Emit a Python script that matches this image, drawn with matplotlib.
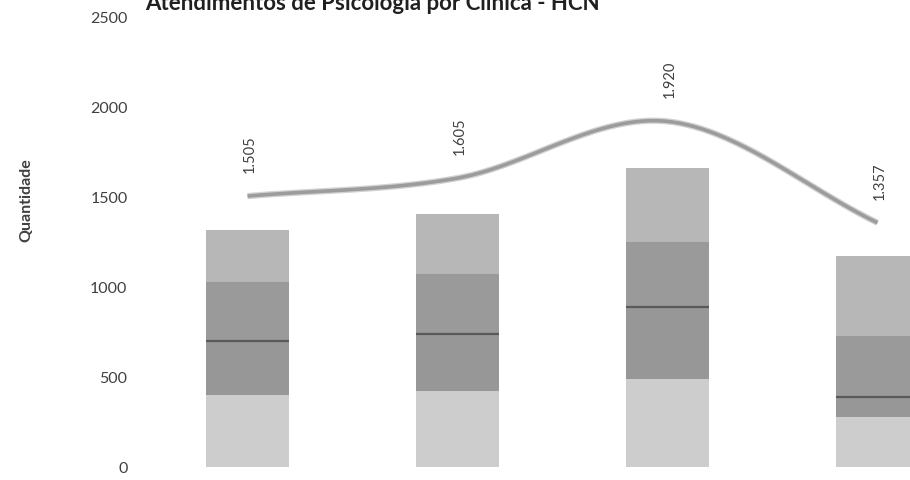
import numpy as np
import matplotlib.pyplot as plt

plt.rcParams['font.family'] = ['Lato', 'DejaVu Sans']

# data
clinicas = ['A', 'B', 'C', 'D']
seg1 = [400, 422, 489, 278]
seg2 = [300, 317, 400, 111]
seg3 = [330, 333, 361, 339]
seg4 = [287, 333, 411, 444]
total_line = [1505, 1605, 1920, 1357]
line_labels = ['1.505', '1.605', '1.920', '1.357']
yticks = [0, 500, 1000, 1500, 2000, 2500]

seg_colors = ['#cdcdcd', '#979797', '#9a9a9a', '#b7b7b7']


def catmull_rom(x, y, n=40):
    # smooth curve through the points, like Excel's smoothed line
    x = np.asarray(x, float)
    y = np.asarray(y, float)
    px = np.concatenate([[2 * x[0] - x[1]], x, [2 * x[-1] - x[-2]]])
    py = np.concatenate([[2 * y[0] - y[1]], y, [2 * y[-1] - y[-2]]])
    xs, ys = [], []
    for i in range(1, len(px) - 2):
        t = np.linspace(0, 1, n)
        for p, out in ((px, xs), (py, ys)):
            p0, p1, p2, p3 = p[i - 1], p[i], p[i + 1], p[i + 2]
            out.extend(0.5 * ((2 * p1) + (-p0 + p2) * t
                              + (2 * p0 - 5 * p1 + 4 * p2 - p3) * t ** 2
                              + (-p0 + 3 * p1 - 3 * p2 + p3) * t ** 3))
    return np.array(xs), np.array(ys)


fig = plt.figure(figsize=(9.1, 4.81), dpi=100)
ax = fig.add_axes([140 / 910, 13 / 481, 770 / 910, 450 / 481])

x = np.arange(len(clinicas))
width = 0.395
bottom = np.zeros(len(clinicas))
for vals, col in zip([seg1, seg2, seg3, seg4], seg_colors):
    ax.bar(x, vals, width, bottom=bottom, color=col, edgecolor='none', zorder=2)
    bottom += np.array(vals)

# dark boundary line between 2nd and 3rd segments
mid = np.array(seg1) + np.array(seg2)
ax.hlines(mid, x - width / 2, x + width / 2, color='#595959', lw=1.6, zorder=3)

sx, sy = catmull_rom(x, total_line)
ax.plot(sx, sy, color='#d2d2d2', lw=4.5, solid_capstyle='butt', zorder=4)
ax.plot(sx, sy, color='#9c9c9c', lw=2.6, solid_capstyle='butt', zorder=5)

for xi, yi, lab in zip(x, total_line, line_labels):
    ax.annotate(lab, (xi, yi), xytext=(2, 24), textcoords='offset pixels',
                rotation=90, ha='center', va='bottom', fontsize=10.5,
                color='#404040')

ax.set_xlim(-0.512, 3.155)
ax.set_ylim(0, 2500)
ax.set_yticks(yticks)
ax.set_xticks([])
ax.tick_params(axis='y', length=0, pad=9, labelsize=11.5, labelcolor='#404040')
for s in ax.spines.values():
    s.set_visible(False)

ax.set_ylabel('Quantidade', fontsize=11.5, fontweight='bold', color='#404040')
ax.yaxis.set_label_coords(-107 / 770, (468 - 200) / 450)

fig.text(372 / 910, 1 - 10 / 481, 'Atendimentos de Psicologia por Clínica - HCN',
         ha='center', va='baseline', fontsize=16, fontweight='bold', color='#202020')

fig.savefig('out.png', dpi=100)
